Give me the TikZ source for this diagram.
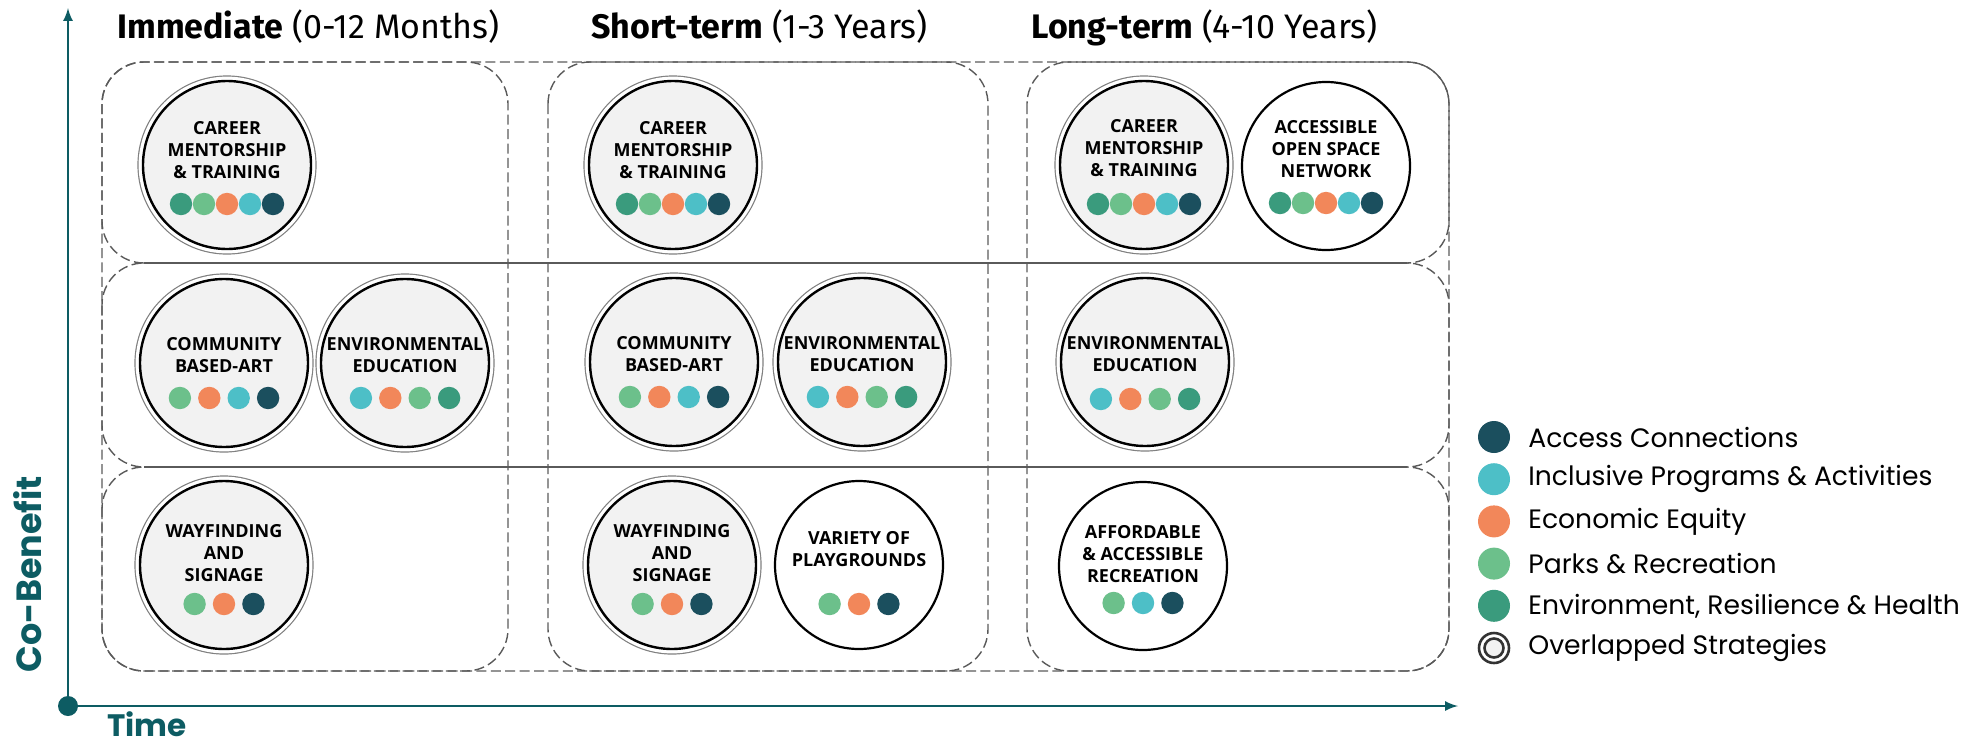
\documentclass[tikz,border=0pt]{standalone}
\usepackage{fontspec}
\setmainfont{Open Sans}
\newfontfamily\titlefont{Fira Sans}
\newfontfamily\legendfont{Poppins}
\usetikzlibrary{calc}

\definecolor{axisteal}{HTML}{0D5C63}
\definecolor{access}{HTML}{1B4F5E}
\definecolor{incl}{HTML}{4DBFC7}
\definecolor{econ}{HTML}{F2875A}
\definecolor{park}{HTML}{6CC08B}
\definecolor{envr}{HTML}{3A9B7D}
\definecolor{ringfill}{HTML}{F2F2F2}
\definecolor{boxline}{HTML}{5A5A5A}

\tikzset{
  overlapring/.style={circle, minimum size=84pt, inner sep=0pt, fill=ringfill, draw=black, line width=1.2pt,
    preaction={draw=black!50, line width=0.6pt, double=white, double distance=4.4pt}},
  singlering/.style={circle, minimum size=84pt, inner sep=0pt, fill=white, draw=black, line width=1.1pt},
  stext/.style={align=center, font=\fontsize{9}{11}\selectfont\bfseries, inner sep=0pt},
  period/.style={draw=boxline, line width=0.7pt, dash pattern=on 5pt off 2.2pt, rounded corners=21pt},
  title/.style={anchor=base west, inner sep=0pt, font=\titlefont\fontsize{17}{20}\selectfont},
  axislabel/.style={text=axisteal, inner sep=0pt, font=\legendfont\fontsize{#1}{20}\selectfont\bfseries},
  legendtext/.style={anchor=west, inner sep=0pt, font=\legendfont\fontsize{13.3}{16}\selectfont},
}

% name, ring style, centre, text, text shift, dot shift, dot spacing, colours
\newcommand{\strategy}[8]{%
  \node[#2] (#1) at (#3) {};
  \node[stext] (#1-t) at ($(#1)+(0,#5)$) {#4};
  \foreach \col [count=\k] in {#8} {\xdef\ndots{\k}}
  \foreach \col [count=\k] in {#8}
    \fill[\col] ($(#1)+({(\k-(\ndots+1)/2)*#7},#6)$) circle[radius=11.2];
}

\begin{document}
\begin{tikzpicture}[x=0.5pt,y=-0.5pt]
\useasboundingbox (0,0) rectangle (1977,750);

% time periods and co-benefit rows
\draw[period] (102,62) rectangle (508,671);
\draw[period] (548,62) rectangle (988,671);
\draw[period] (1027,62) rectangle (1449,671);
\draw[period] (102,62) rectangle (1449,263);
\draw[period] (102,263) rectangle (1449,467);
\draw[period] (102,467) rectangle (1449,671);
\draw[boxline, line width=0.7pt] (144,263) -- (1407,263);
\draw[boxline, line width=0.7pt] (144,467) -- (1407,467);

\node[title] (immediate) at (117,38) {\textbf{Immediate} (0-12 Months)};
\node[title] (shortterm) at (591,38) {\textbf{Short-term} (1-3 Years)};
\node[title] (longterm) at (1031,38) {\textbf{Long-term} (4-10 Years)};

% axes
\coordinate (origin) at (68,706);
\coordinate (ytip) at (68,8);
\coordinate (xtip) at (1458,706);
\draw[axisteal, line width=1.2pt, -latex] (origin) -- (ytip);
\draw[axisteal, line width=1.2pt, -latex] (origin) -- (xtip);
\fill[axisteal] (origin) circle[radius=10];
\node[axislabel=17.5, rotate=90] (cobenefit) at (28,574) {Co-Benefit};
\node[axislabel=15.5, anchor=base west, text depth=0pt] (time) at (107,736) {Time};

% strategies
\strategy{imcareer}{overlapring}{227,165}{CAREER\\MENTORSHIP\\\& TRAINING}{-15}{39}{23}{envr,park,econ,incl,access}
\strategy{stcareer}{overlapring}{673,165}{CAREER\\MENTORSHIP\\\& TRAINING}{-15}{39}{23}{envr,park,econ,incl,access}
\strategy{ltcareer}{overlapring}{1144,165}{CAREER\\MENTORSHIP\\\& TRAINING}{-17}{39}{23}{envr,park,econ,incl,access}
\strategy{ltopen}{singlering}{1326,166}{ACCESSIBLE\\OPEN SPACE\\NETWORK}{-17}{37}{23}{envr,park,econ,incl,access}

\strategy{imart}{overlapring}{224,363}{COMMUNITY\\BASED-ART}{-8}{35}{29.4}{park,econ,incl,access}
\strategy{imedu}{overlapring}{405,363}{ENVIRONMENTAL\\EDUCATION}{-8}{35}{29.4}{incl,econ,park,envr}
\strategy{stcomm}{overlapring}{674,362}{COMMUNITY\\BASED-ART}{-8}{35}{29.4}{park,econ,incl,access}
\strategy{stedu}{overlapring}{862,362}{ENVIRONMENTAL\\EDUCATION}{-8}{35}{29.4}{incl,econ,park,envr}
\strategy{ltedu}{overlapring}{1145,362}{ENVIRONMENTAL\\EDUCATION}{-8}{37}{29.4}{incl,econ,park,envr}

\strategy{imsign}{overlapring}{224,565}{WAYFINDING\\AND\\SIGNAGE}{-12}{39}{29.4}{park,econ,access}
\strategy{stsign}{overlapring}{672,565}{WAYFINDING\\AND\\SIGNAGE}{-12}{39}{29.4}{park,econ,access}
\strategy{stplay}{singlering}{859,565}{VARIETY OF\\PLAYGROUNDS}{-16}{39}{29.4}{park,econ,access}
\strategy{ltrec}{singlering}{1143,566}{AFFORDABLE\\\& ACCESSIBLE\\RECREATION}{-12}{37}{29.4}{park,incl,access}

% legend
\foreach \col/\txt [count=\k] in {access/Access Connections, incl/Inclusive Programs \& Activities, econ/Economic Equity, park/Parks \& Recreation, envr/{Environment, Resilience \& Health}}
{
  \fill[\col] (1494,{437+42.2*(\k-1)}) circle[radius=16];
  \node[legendtext] (key\k) at (1528,{437+42.2*(\k-1)}) {\txt};
}
\draw[black!80, line width=1.3pt] (1494,648) circle[radius=15];
\draw[black!80, line width=1.3pt, fill=ringfill] (1494,648) circle[radius=9.5];
\node[legendtext] (key6) at (1528,648) {Overlapped Strategies};
\end{tikzpicture}
\end{document}
